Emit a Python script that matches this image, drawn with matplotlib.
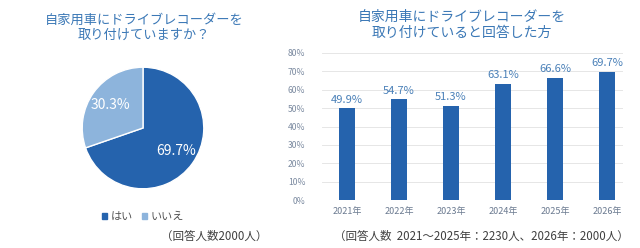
import matplotlib
matplotlib.use("Agg")
import matplotlib.pyplot as plt
from matplotlib.patches import Patch

plt.rcParams['font.family'] = ['Noto Sans CJK JP', 'DejaVu Sans']

# pie data
pie_labels = ['はい', 'いいえ']
pie_values = [69.7, 30.3]

# bar data
years = ['2021年', '2022年', '2023年', '2024年', '2025年', '2026年']
rates = [49.9, 54.7, 51.3, 63.1, 66.6, 69.7]

dark = '#2563ad'
light = '#8db4dc'
title_col = '#3b78b6'

W, H = 640, 248
fig = plt.figure(figsize=(6.4, 2.48), dpi=100)

def box(l, t, r, b):
    return [l / W, 1 - b / H, (r - l) / W, (b - t) / H]

# ---- left: pie ----
ax1 = fig.add_axes(box(81, 66, 205, 190))
ax1.pie(pie_values, colors=[dark, light], startangle=90, counterclock=False,
        autopct='%.1f%%', pctdistance=0.66,
        wedgeprops=dict(edgecolor='white', linewidth=1),
        textprops=dict(color='white', fontsize=10))
ax1.set_xlim(-1.02, 1.02)
ax1.set_ylim(-1.02, 1.02)
ax1.set_aspect('equal')

fig.text(144 / W, 1 - 28 / H, '自家用車にドライブレコーダーを\n取り付けていますか？',
         ha='center', va='center', color=title_col, fontsize=9.5, linespacing=1.25)

handles = [Patch(color=dark), Patch(color=light)]
fig.legend(handles, pie_labels, loc='center', bbox_to_anchor=(143 / W, 1 - 217 / H),
           ncol=2, frameon=False, handlelength=0.45, handleheight=0.45,
           handletextpad=0.3, columnspacing=0.8, fontsize=8, labelcolor='#555555')
fig.text(214 / W, 1 - 236 / H, '（回答人数2000人）', ha='center', va='center',
         color='#404040', fontsize=8.3)

# ---- right: bars ----
ax2 = fig.add_axes(box(322, 53, 623, 200))
x = range(len(years))
ax2.bar(x, [r / 100 for r in rates], width=0.31, color=dark, zorder=3)
for i, r in enumerate(rates):
    ax2.text(i, r / 100 + 0.02, f'{r:.1f}%', ha='center', va='bottom',
             color='#4a80b8', fontsize=8)
ax2.set_ylim(0, 0.8)
ax2.set_xlim(-0.48, 5.31)
ax2.set_yticks([i / 10 for i in range(9)])
ax2.set_yticklabels([f'{i * 10}%' for i in range(9)])
ax2.set_xticks(list(x))
ax2.set_xticklabels(years)
ax2.tick_params(axis='y', length=0, labelsize=6.2, labelcolor='#7b8aa0', pad=12)
ax2.tick_params(axis='x', length=0, labelsize=6.5, labelcolor='#6b7a90', pad=5)
ax2.grid(axis='y', color='#e6e6e6', linewidth=0.7, zorder=0)
for s in ax2.spines.values():
    s.set_visible(False)

fig.text(462 / W, 1 - 25 / H, '自家用車にドライブレコーダーを\n取り付けていると回答した方',
         ha='center', va='center', color=title_col, fontsize=10, linespacing=1.25)
fig.text(481 / W, 1 - 236 / H, '（回答人数  2021～2025年：2230人、2026年：2000人）',
         ha='center', va='center', color='#404040', fontsize=8.3)

fig.savefig('out.png', dpi=100)
